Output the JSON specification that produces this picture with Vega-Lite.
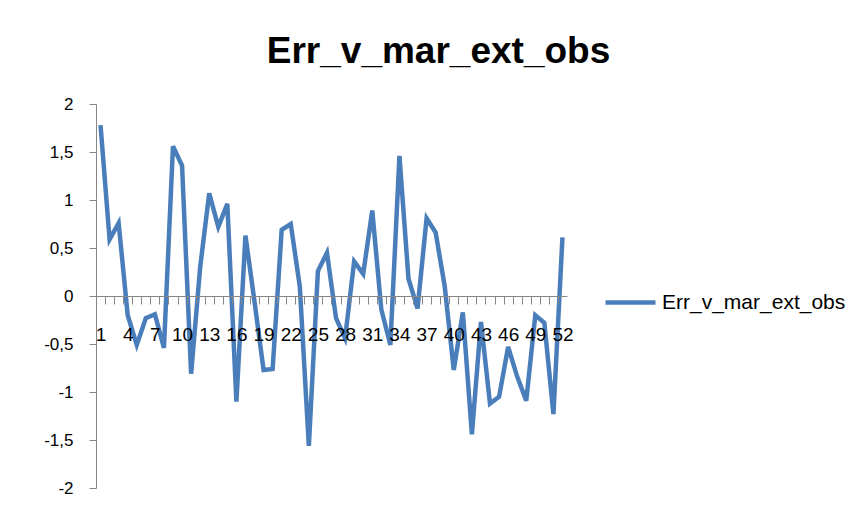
{
  "$schema": "https://vega.github.io/schema/vega-lite/v6.json",
  "width": 471,
  "height": 384,
  "autosize": {"type": "none"},
  "padding": {"left": 96, "top": 104, "right": 294, "bottom": 25},
  "background": "white",
  "title": {
    "text": "Err_v_mar_ext_obs",
    "font": "Liberation Sans",
    "fontSize": 37,
    "fontWeight": "bold",
    "color": "black",
    "anchor": "middle",
    "baseline": "alphabetic",
    "dx": 107,
    "offset": -5
  },
  "config": {
    "view": {"stroke": null},
    "axis": {"grid": false}
  },
  "data": {
    "values": [
      {"n": 1, "v": 1.78}, {"n": 2, "v": 0.59}, {"n": 3, "v": 0.76}, {"n": 4, "v": -0.20},
      {"n": 5, "v": -0.51}, {"n": 6, "v": -0.23}, {"n": 7, "v": -0.19}, {"n": 8, "v": -0.54},
      {"n": 9, "v": 1.56}, {"n": 10, "v": 1.36}, {"n": 11, "v": -0.81}, {"n": 12, "v": 0.30},
      {"n": 13, "v": 1.07}, {"n": 14, "v": 0.72}, {"n": 15, "v": 0.96}, {"n": 16, "v": -1.10},
      {"n": 17, "v": 0.63}, {"n": 18, "v": -0.06}, {"n": 19, "v": -0.77}, {"n": 20, "v": -0.76},
      {"n": 21, "v": 0.69}, {"n": 22, "v": 0.75}, {"n": 23, "v": 0.10}, {"n": 24, "v": -1.56},
      {"n": 25, "v": 0.26}, {"n": 26, "v": 0.45}, {"n": 27, "v": -0.23}, {"n": 28, "v": -0.44},
      {"n": 29, "v": 0.36}, {"n": 30, "v": 0.23}, {"n": 31, "v": 0.89}, {"n": 32, "v": -0.14},
      {"n": 33, "v": -0.51}, {"n": 34, "v": 1.46}, {"n": 35, "v": 0.18}, {"n": 36, "v": -0.13},
      {"n": 37, "v": 0.81}, {"n": 38, "v": 0.66}, {"n": 39, "v": 0.10}, {"n": 40, "v": -0.77},
      {"n": 41, "v": -0.17}, {"n": 42, "v": -1.44}, {"n": 43, "v": -0.27}, {"n": 44, "v": -1.12},
      {"n": 45, "v": -1.05}, {"n": 46, "v": -0.53}, {"n": 47, "v": -0.84}, {"n": 48, "v": -1.09},
      {"n": 49, "v": -0.20}, {"n": 50, "v": -0.28}, {"n": 51, "v": -1.23}, {"n": 52, "v": 0.61}
    ]
  },
  "mark": {"type": "line", "strokeWidth": 4.5, "strokeJoin": "miter", "strokeCap": "butt"},
  "encoding": {
    "x": {
      "field": "n",
      "type": "ordinal",
      "sort": null,
      "scale": {"type": "point", "padding": 0.5},
      "axis": {
        "title": null,
        "orient": "bottom",
        "offset": -192,
        "zindex": 1,
        "domainColor": "#868686",
        "domainWidth": 1,
        "tickColor": "#868686",
        "tickSize": 8,
        "tickOffset": -4.53,
        "labelOffset": 4.53,
        "labelAngle": 0,
        "labelOverlap": false,
        "labelFont": "Liberation Sans",
        "labelFontSize": 19,
        "labelColor": "black",
        "labelPadding": 21,
        "labelExpr": "(toNumber(datum.value) - 1) % 3 == 0 ? datum.value : ''"
      }
    },
    "y": {
      "field": "v",
      "type": "quantitative",
      "scale": {"domain": [-2, 2], "nice": false, "zero": false},
      "axis": {
        "title": null,
        "values": [-2, -1.5, -1, -0.5, 0, 0.5, 1, 1.5, 2],
        "domainColor": "#868686",
        "tickColor": "#868686",
        "tickSize": 7,
        "labelFont": "Liberation Sans",
        "labelFontSize": 17,
        "labelColor": "black",
        "labelPadding": 16,
        "labelExpr": "replace(toString(datum.value), '.', ',')"
      }
    },
    "color": {
      "datum": "Err_v_mar_ext_obs",
      "scale": {"range": ["#4A7EBB"]},
      "legend": {
        "title": null,
        "orient": "none",
        "legendX": 507,
        "legendY": 171,
        "padding": 0,
        "symbolType": "stroke",
        "symbolSize": 2500,
        "symbolStrokeWidth": 4.5,
        "labelFont": "Liberation Sans",
        "labelFontSize": 21,
        "labelLimit": 0,
        "labelColor": "black",
        "labelOffset": 4
      }
    }
  }
}
